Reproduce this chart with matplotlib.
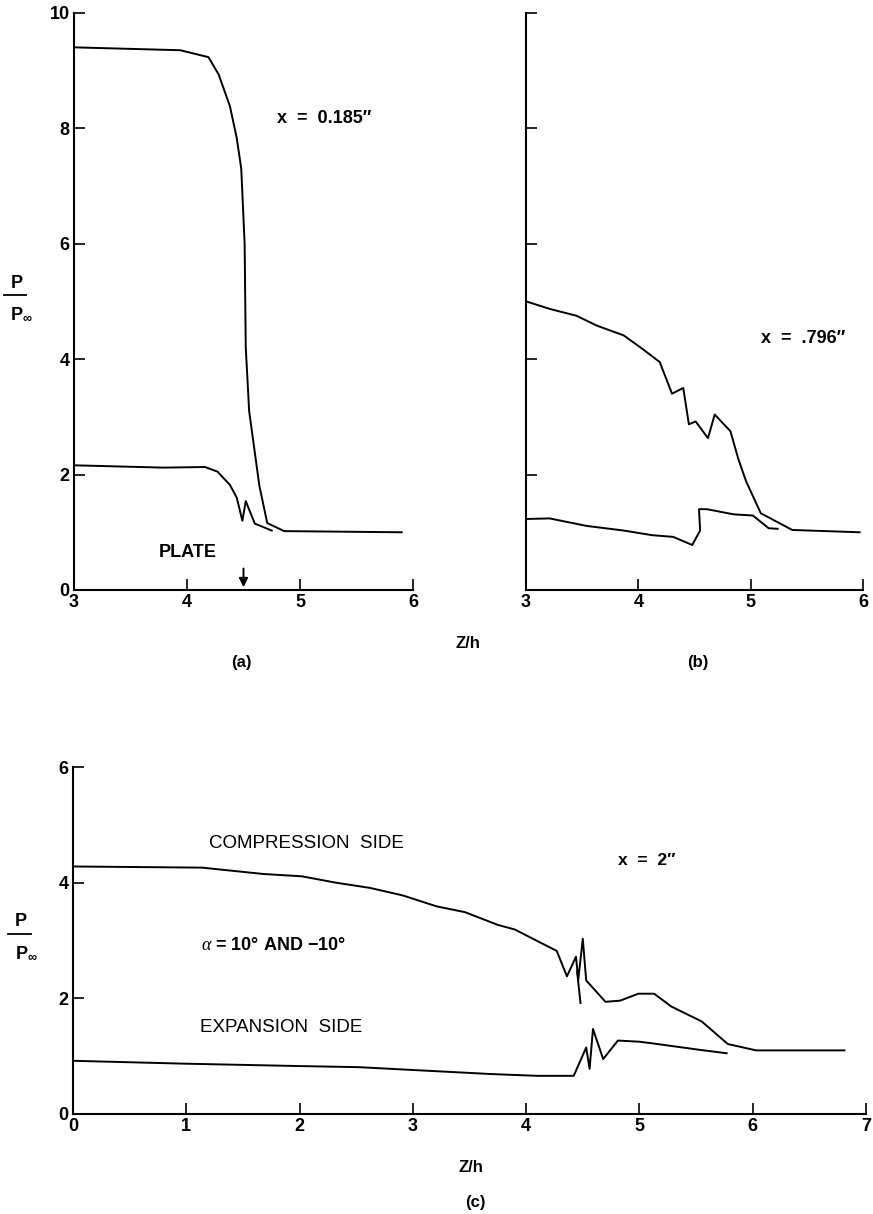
import matplotlib
matplotlib.use("Agg")
import matplotlib.pyplot as plt
from matplotlib.lines import Line2D

plt.rcParams['font.family'] = ['Liberation Sans', 'DejaVu Sans']
plt.rcParams['mathtext.fontset'] = 'custom'
plt.rcParams['mathtext.rm'] = 'Liberation Sans:bold'
plt.rcParams['mathtext.it'] = 'Liberation Serif:italic'
plt.rcParams['mathtext.bf'] = 'Liberation Sans:bold'

# ---- data (a) x = 0.185"
a_upper_z = [3.0, 3.94, 4.19, 4.28, 4.38, 4.44, 4.48, 4.51, 4.52, 4.55, 4.64, 4.71, 4.86, 5.90]
a_upper_p = [9.40, 9.35, 9.23, 8.93, 8.38, 7.83, 7.30, 6.0, 4.2, 3.1, 1.81, 1.16, 1.02, 1.0]
a_lower_z = [3.0, 3.79, 4.16, 4.27, 4.38, 4.44, 4.49, 4.52, 4.60, 4.75]
a_lower_p = [2.16, 2.12, 2.13, 2.05, 1.82, 1.60, 1.20, 1.54, 1.15, 1.03]

# ---- data (b) x = .796"
b_upper_z = [3.0, 3.21, 3.45, 3.63, 3.87, 4.02, 4.19, 4.30, 4.40, 4.45, 4.51, 4.62, 4.68, 4.82, 4.89, 4.96, 5.09, 5.37, 5.97]
b_upper_p = [5.0, 4.87, 4.75, 4.58, 4.41, 4.2, 3.95, 3.40, 3.50, 2.87, 2.92, 2.63, 3.04, 2.75, 2.27, 1.88, 1.33, 1.04, 1.0]
b_lower_z = [3.0, 3.21, 3.54, 3.87, 4.12, 4.31, 4.48, 4.55, 4.54, 4.61, 4.85, 5.02, 5.16, 5.24]
b_lower_p = [1.23, 1.24, 1.11, 1.03, 0.95, 0.92, 0.78, 1.03, 1.40, 1.40, 1.31, 1.29, 1.07, 1.06]

# ---- data (c) x = 2"
c_comp_z = [0.0, 1.14, 1.68, 2.02, 2.32, 2.62, 2.91, 3.21, 3.46, 3.75, 3.90, 4.27, 4.36, 4.44, 4.46,
            4.50, 4.53, 4.70, 4.83, 4.99, 5.13, 5.28, 5.55, 5.78, 6.03, 6.81]
c_comp_p = [4.28, 4.26, 4.15, 4.11, 4.00, 3.91, 3.78, 3.59, 3.49, 3.27, 3.19, 2.82, 2.38, 2.72, 2.32,
            3.03, 2.31, 1.94, 1.96, 2.08, 2.08, 1.86, 1.60, 1.21, 1.10, 1.10]
c_branch_z = [4.45, 4.48]
c_branch_p = [2.46, 1.92]
c_exp_z = [0.0, 0.99, 1.97, 2.52, 3.01, 3.70, 4.10, 4.42, 4.53, 4.56, 4.59, 4.68, 4.81, 5.00, 5.12, 5.53, 5.77]
c_exp_p = [0.92, 0.87, 0.83, 0.81, 0.76, 0.69, 0.66, 0.66, 1.15, 0.78, 1.47, 0.95, 1.27, 1.25, 1.22, 1.11, 1.05]

ab_xticks = [3, 4, 5, 6]
ab_yticks = [0, 2, 4, 6, 8, 10]
c_xticks = [0, 1, 2, 3, 4, 5, 6, 7]
c_yticks = [0, 2, 4, 6]

W, H = 873, 1214
fig = plt.figure(figsize=(W / 100, H / 100), dpi=100)


def rect(l, r, b, t):
    return [l / W, 1 - b / H, (r - l) / W, (b - t) / H]


LW = 1.4
TICKFONT = dict(fontsize=13, fontweight='bold')


def style(ax, xt, yt, ylabels=True):
    for s in ['top', 'right']:
        ax.spines[s].set_visible(False)
    for s in ['left', 'bottom']:
        ax.spines[s].set_linewidth(1.5)
    ax.set_xticks(xt)
    ax.set_yticks(yt)
    ax.tick_params(direction='in', length=8, width=1.2, pad=3)
    ax.set_xticklabels([str(v) for v in xt], **TICKFONT)
    if ylabels:
        ax.set_yticklabels([str(v) for v in yt], **TICKFONT)
    else:
        ax.set_yticklabels([])


axa = fig.add_axes(rect(74, 413, 590, 12.7))
axa.plot(a_upper_z, a_upper_p, color='black', lw=LW)
axa.plot(a_lower_z, a_lower_p, color='black', lw=LW)
axa.set_xlim(3, 6)
axa.set_ylim(0, 10)
style(axa, ab_xticks, ab_yticks)
axa.text(4.8, 8.16, "x  =  0.185\u2033", fontsize=13, fontweight='bold', va='center', ha='left')
axa.text(4.01, 0.65, "PLATE", fontsize=13, fontweight='bold', va='center', ha='center')
axa.annotate("", xy=(4.5, 0.0), xytext=(4.5, 0.42),
             arrowprops=dict(arrowstyle='-|>', color='black', lw=1.4, mutation_scale=13))

axb = fig.add_axes(rect(526, 863, 590, 12.7))
axb.plot(b_upper_z, b_upper_p, color='black', lw=LW)
axb.plot(b_lower_z, b_lower_p, color='black', lw=LW)
axb.set_xlim(3, 6)
axb.set_ylim(0, 10)
style(axb, ab_xticks, ab_yticks, ylabels=False)
axb.text(5.09, 4.36, "x  =  .796\u2033", fontsize=13, fontweight='bold', va='center', ha='left')

axc = fig.add_axes(rect(73, 866, 1114, 767))
axc.plot(c_comp_z, c_comp_p, color='black', lw=LW)
axc.plot(c_branch_z, c_branch_p, color='black', lw=LW)
axc.plot(c_exp_z, c_exp_p, color='black', lw=LW)
axc.set_xlim(0, 7)
axc.set_ylim(0, 6)
style(axc, c_xticks, c_yticks)
axc.text(1.2, 4.68, "COMPRESSION  SIDE", fontsize=13.5, va='center', ha='left')
axc.text(4.81, 4.38, "x  =  2\u2033", fontsize=12.5, fontweight='bold', va='center', ha='left')
axc.text(1.13, 2.92, "$\\alpha$ = 10\u00b0 AND \u221210\u00b0", fontsize=13, fontweight='bold',
         va='center', ha='left')
axc.text(1.12, 1.49, "EXPANSION  SIDE", fontsize=13.5, va='center', ha='left')


def pp_label(xc, ytop, xbar0, xbar1, ybar, xleft, ybot):
    fig.text(xc / W, 1 - ytop / H, "P", fontsize=13, fontweight='bold', ha='center', va='center')
    fig.add_artist(Line2D([xbar0 / W, xbar1 / W], [1 - ybar / H, 1 - ybar / H],
                          color='black', lw=1.3, transform=fig.transFigure))
    fig.text(xleft / W, 1 - ybot / H, r"P$_{\infty}$", fontsize=13, fontweight='bold',
             ha='left', va='center')


pp_label(17, 283, 4, 26, 295, 10, 314)
pp_label(21, 922, 8, 31, 934, 15, 953)

LBL = dict(fontsize=12, fontweight='bold', ha='center', va='center')
fig.text(468 / W, 1 - 644 / H, "Z/h", **LBL)
fig.text(241 / W, 1 - 662 / H, "(a)", **LBL)
fig.text(698 / W, 1 - 662 / H, "(b)", **LBL)
fig.text(471 / W, 1 - 1168 / H, "Z/h", **LBL)
fig.text(475 / W, 1 - 1203 / H, "(c)", **LBL)

fig.savefig("out.png", dpi=100)
